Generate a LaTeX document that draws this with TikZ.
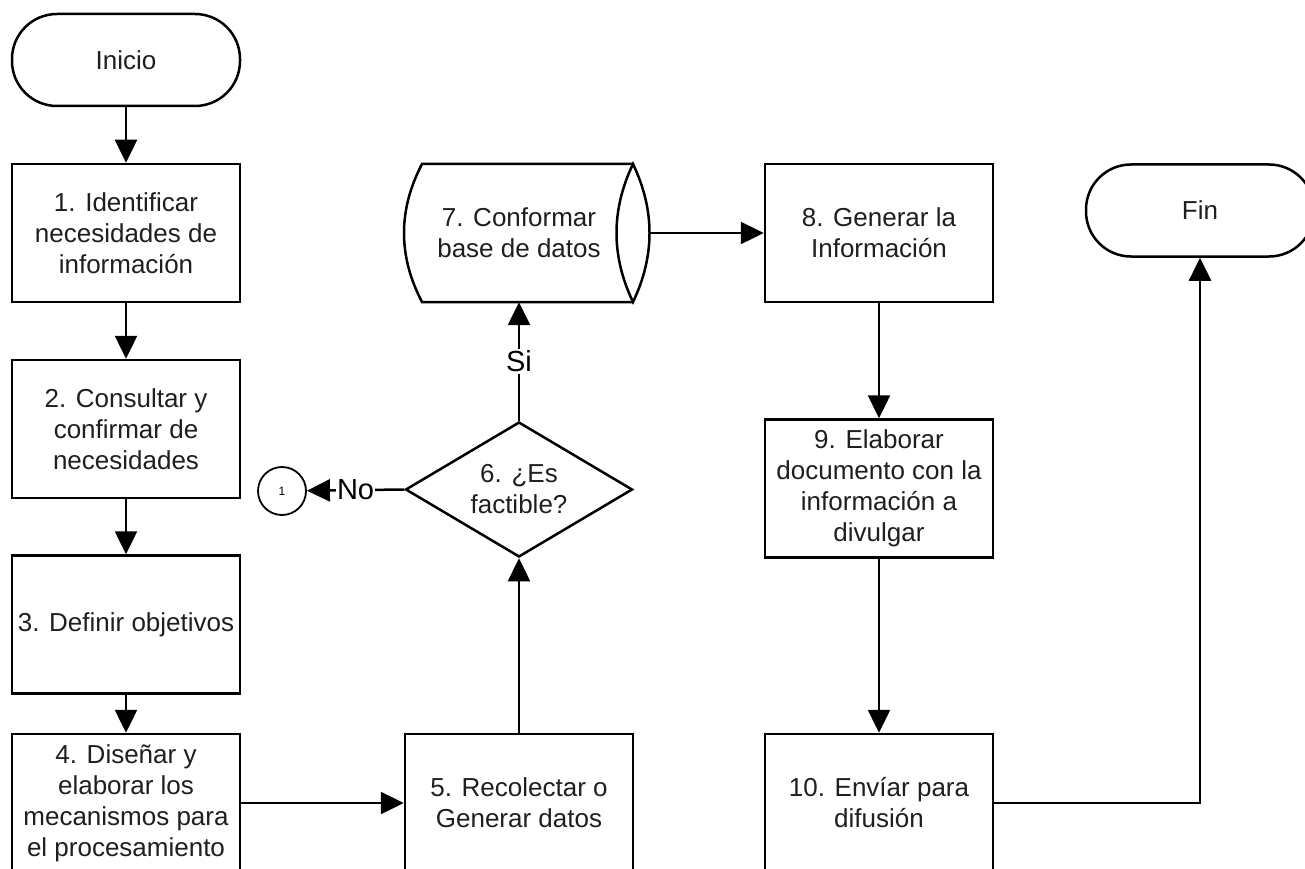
\documentclass[tikz,border=0pt]{standalone}
\usepackage{fontspec}
\setmainfont{Liberation Sans}
\usetikzlibrary{arrows.meta,shapes.geometric}
\begin{document}
\begin{tikzpicture}[x=1pt,y=-1pt,
  lw/.style={line width=2.5pt},
  txt/.style={font=\fontsize{26}{31}\selectfont, text=black!88},
  proc/.style={draw,lw,rectangle,minimum width=228pt,minimum height=138pt,align=center,inner sep=0pt,txt},
  term/.style={draw,lw,rectangle,rounded corners=45pt,minimum width=228pt,minimum height=92pt,inner sep=0pt,txt},
  dec/.style={draw,lw,diamond,aspect=1.68,minimum width=227pt,minimum height=135pt,inner sep=0pt,align=center,txt},
  conn/.style={draw,line width=1.8pt,circle,minimum size=48pt,inner sep=0pt,font=\fontsize{12}{14}\selectfont},
  arr/.style={lw,-{Triangle[length=23pt,width=22pt]}},
  lbl/.style={fill=white,inner sep=2pt,font=\fontsize{29}{31}\selectfont}]
\clip (0,0) rectangle (1305,869);
\fill[white] (0,0) rectangle (1305,869);

% column A
\node[term] (ini) at (126,60) {Inicio};
\node[proc] (b1) at (126,233) {1. Identificar\\necesidades de\\información};
\node[proc] (b2) at (126,429) {2. Consultar y\\confirmar de\\necesidades};
\node[proc] (b3) at (126,624.5) {3. Definir objetivos};
\node[proc] (b4) at (126,803) {4. Diseñar y\\elaborar los\\mecanismos para\\el procesamiento};

% column B
\node[proc] (b5) at (519,803) {5. Recolectar o\\Generar datos};
\node[dec] (d6) at (519,489.5) {6. ¿Es\\factible?};
\node[conn] (c1) at (282,491) {1};
% database shape
\draw[lw] (633,164) -- (422,164) .. controls (398,210) and (398,256) .. (422,302) -- (633,302);
\draw[lw] (633,164) .. controls (611,210) and (611,256) .. (633,302)
          .. controls (655,256) and (655,210) .. (633,164) -- cycle;
\node[minimum width=262pt,minimum height=138pt,inner sep=0pt,align=center,txt] (db) at (519,233) {7. Conformar\\base de datos};

% column C
\node[proc] (b8) at (879,233) {8. Generar la\\Información};
\node[proc] (b9) at (879,488.5) {9. Elaborar\\documento con la\\información a\\divulgar};
\node[proc] (b10) at (879,803) {10. Envíar para\\difusión};
\node[term] (fin) at (1200,210.5) {Fin};

% connectors
\draw[arr] (ini) -- (b1);
\draw[arr] (b1) -- (b2);
\draw[arr] (b2) -- (b3);
\draw[arr] (b3) -- (b4);
\draw[arr] (b4) -- (b5);
\draw[arr] (b5) -- (d6);
\draw[arr] (d6.north) -- node[lbl] {Si} (db.south);
\draw[arr] (d6.west) -- node[lbl,inner sep=1pt] {No} (c1);
\draw[arr] (db.east) -- (b8);
\draw[arr] (b8) -- (b9);
\draw[arr] (b9) -- (b10);
\draw[arr] (b10.east) -| (fin.south);
\end{tikzpicture}
\end{document}
